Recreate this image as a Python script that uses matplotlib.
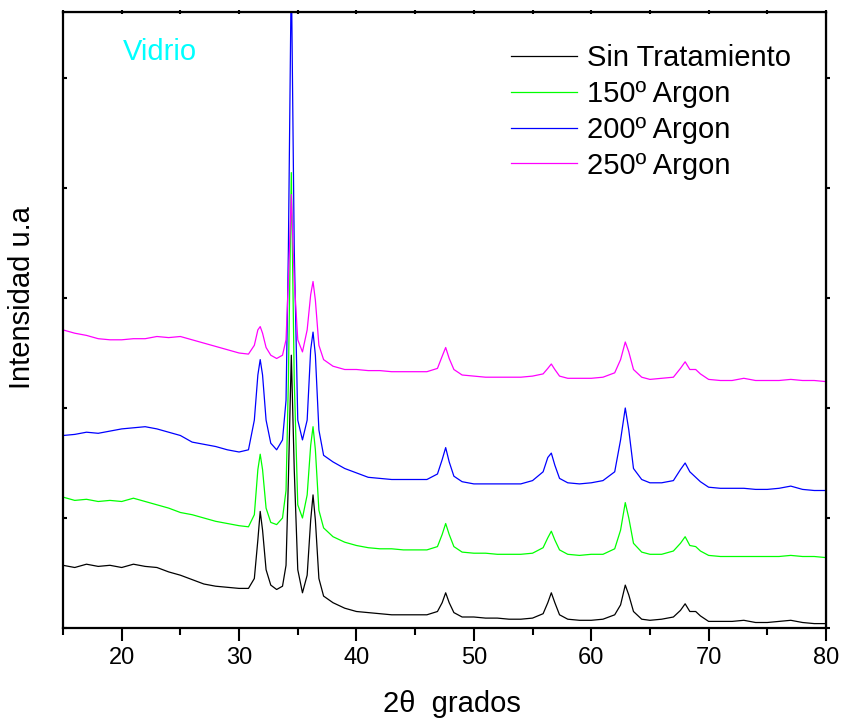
import matplotlib
matplotlib.use("Agg")
import matplotlib.pyplot as plt
from matplotlib.ticker import MultipleLocator

plt.rcParams['font.family'] = ['Liberation Sans', 'DejaVu Sans']

# angulos 2theta comunes a los cuatro difractogramas
theta = [15, 16, 17, 18, 19, 20, 21, 22, 23, 24, 25, 26, 27, 28, 29, 30, 30.8,
         31.3, 31.6, 31.8, 32.0, 32.3, 32.7, 33.2, 33.7, 34.0, 34.2, 34.45, 34.7,
         35.0, 35.4, 35.8, 36.1, 36.3, 36.5, 36.8, 37.2, 38, 39, 40, 41, 42, 43,
         44, 45, 46, 46.9, 47.3, 47.6, 47.9, 48.3, 49, 50, 51, 52, 53, 54, 55,
         55.9, 56.3, 56.6, 56.9, 57.3, 58, 59, 60, 61, 62, 62.5, 62.9, 63.2, 63.6,
         64.3, 65, 66, 67, 67.6, 68.0, 68.4, 68.9, 69.3, 70, 71, 72, 73, 74, 75,
         76, 77, 78, 79, 80]

sin_trat = [57, 55, 58, 56, 57, 55, 58, 56, 55, 51, 48, 44, 40, 38, 37, 36, 36,
            45, 80, 106, 89, 53, 39, 35, 38, 57, 135, 248, 144,
            53, 32, 48, 98, 121, 98, 45, 29, 23, 18, 15, 14, 13, 12,
            12, 12, 12, 15, 23, 32, 23, 14, 10, 10, 9, 9, 8, 8, 9,
            13, 23, 32, 23, 12, 8, 7, 7, 8, 12, 21, 39, 30, 15,
            8, 7, 8, 10, 16, 22, 15, 15, 11, 6, 6, 6, 7, 5, 5,
            6, 7, 5, 4, 4]

argon150 = [119, 116, 117, 115, 116, 115, 118, 115, 112, 109, 105, 103, 100, 97, 95, 93, 92,
            103, 144, 158, 144, 109, 96, 94, 100, 125, 225, 414, 225,
            112, 100, 121, 166, 183, 162, 107, 91, 83, 78, 75, 73, 72, 72,
            71, 71, 71, 74, 85, 95, 85, 74, 69, 68, 68, 67, 67, 67, 68,
            73, 82, 88, 80, 71, 67, 66, 67, 67, 72, 89, 114, 100, 77,
            69, 67, 67, 70, 77, 83, 75, 74, 70, 66, 65, 65, 65, 65, 65,
            65, 66, 65, 65, 64]

argon200 = [175, 176, 178, 177, 179, 181, 182, 183, 181, 178, 175, 169, 167, 165, 162, 160, 162,
            189, 230, 244, 230, 189, 168, 162, 171, 207, 344, 600, 344,
            189, 171, 189, 253, 269, 248, 180, 157, 151, 145, 141, 137, 136, 135,
            135, 135, 135, 140, 153, 164, 151, 138, 133, 131, 131, 131, 131, 131, 134,
            142, 155, 159, 148, 136, 132, 131, 132, 134, 142, 171, 200, 180, 145,
            135, 132, 132, 134, 144, 150, 142, 137, 133, 128, 127, 127, 127, 126, 126,
            127, 129, 126, 125, 125]

argon250 = [271, 268, 266, 263, 262, 262, 263, 263, 265, 264, 265, 262, 259, 256, 253, 250, 249,
            257, 271, 274, 268, 255, 248, 245, 248, 262, 316, 394, 316,
            262, 251, 271, 303, 315, 298, 257, 244, 238, 235, 235, 234, 234, 233,
            233, 233, 233, 236, 247, 255, 245, 235, 230, 229, 228, 228, 228, 228, 229,
            231, 236, 240, 235, 229, 227, 227, 227, 228, 232, 244, 260, 251, 235,
            228, 226, 227, 228, 236, 242, 235, 235, 231, 226, 225, 225, 227, 225, 225,
            225, 226, 225, 225, 224]

series = [sin_trat, argon150, argon200, argon250]
etiquetas = ['Sin Tratamiento', '150º Argon', '200º Argon', '250º Argon']
colores = ['#000000', '#00ff00', '#0000ff', '#ff00ff']

fig = plt.figure(figsize=(8.43, 7.22), dpi=100)
ax = fig.add_axes([63/843, 94/722, 763/843, 616/722])

for y, lab, c in zip(series, etiquetas, colores):
    ax.plot(theta, y, color=c, linewidth=0.9, label=lab)

ax.set_xlim(15, 80)
ax.set_ylim(0, 560)
ax.xaxis.set_major_locator(MultipleLocator(10))
ax.xaxis.set_minor_locator(MultipleLocator(5))
ax.yaxis.set_major_locator(MultipleLocator(100))
ax.set_yticklabels([])
for s in ax.spines.values():
    s.set_linewidth(1.6)
ax.tick_params(axis='x', which='major', direction='out', length=9, width=1.5,
               labelsize=17, pad=5)
ax.tick_params(axis='x', which='minor', direction='out', length=5, width=1.5)
ax.tick_params(axis='y', which='major', direction='in', length=3, width=1.5)

# ejes espejo arriba y a la derecha
top = ax.secondary_xaxis('top')
top.xaxis.set_major_locator(MultipleLocator(5))
top.tick_params(direction='inout', length=3, width=1.5, labeltop=False)
der = ax.secondary_yaxis('right')
der.yaxis.set_major_locator(MultipleLocator(100))
der.tick_params(direction='out', length=3, width=1.5, labelright=False)

ax.set_xlabel('2θ  grados', fontsize=21)
ax.xaxis.set_label_coords(0.51, -0.100)
ax.set_ylabel('Intensidad u.a', fontsize=21, va='center')
ax.yaxis.set_label_coords(-0.054, 0.537)

ax.text(0.079, 0.935, 'Vidrio', color='#00ffff', fontsize=21,
        transform=ax.transAxes, va='center')

ax.legend(loc='upper left', bbox_to_anchor=(511/843, 1 - 44/722),
          bbox_transform=fig.transFigure, frameon=False, fontsize=21,
          handlelength=2.25, handletextpad=0.35, labelspacing=0.27,
          borderpad=0, borderaxespad=0)

fig.savefig('out.png', dpi=100)
